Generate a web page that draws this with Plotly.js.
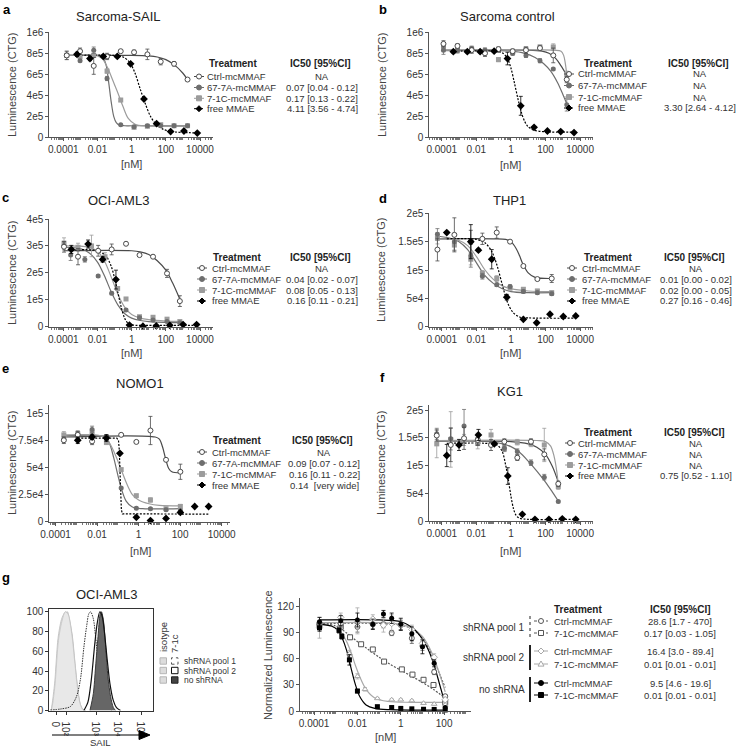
<!DOCTYPE html>
<html><head><meta charset="utf-8">
<script src="https://cdn.plot.ly/plotly-3.0.1.min.js"></script>
<style>html,body{margin:0;padding:0;background:#fff}#chart{width:737px;height:749px}</style>
</head><body><div id="chart"></div>
<script>
// ---------------- labels ----------------
const treatments = ['Ctrl-mcMMAF', '67-7A-mcMMAF', '7-1C-mcMMAF', 'free MMAE'];
const panelTitles = ['Sarcoma-SAIL', 'Sarcoma control', 'OCI-AML3', 'THP1', 'NOMO1', 'KG1', 'OCI-AML3'];
const ic50A = ['NA', '0.07 [0.04 - 0.12]', '0.17 [0.13 - 0.22]', '4.11 [3.56 - 4.74]'];
const ic50B = ['NA', 'NA', 'NA', '3.30 [2.64 - 4.12]'];
const ic50C = ['NA', '0.04 [0.02 - 0.07]', '0.08 [0.05 - 0.13]', '0.16 [0.11 - 0.21]'];
const ic50D = ['NA', '0.01 [0.00 - 0.02]', '0.02 [0.00 - 0.05]', '0.27 [0.16 - 0.46]'];
const ic50E = ['NA', '0.09 [0.07 - 0.12]', '0.16 [0.11 - 0.22]', '0.14\u00a0\u00a0[very wide]'];
const ic50F = ['NA', 'NA', 'NA', '0.75 [0.52 - 1.10]'];
const xTickVals = [1e-4, 1e-2, 1, 100, 1e4];
const xTickText = ['0.0001', '0.01', '1', '100', '10000'];
const gGroups = ['shRNA pool 1', 'shRNA pool 2', 'no shRNA'];
const gTreat = ['Ctrl-mcMMAF', '7-1C-mcMMAF', 'Ctrl-mcMMAF', '7-1C-mcMMAF', 'Ctrl-mcMMAF', '7-1C-mcMMAF'];
const gIc50 = ['28.6 [1.7 - 470]', '0.17 [0.03 - 1.05]', '16.4 [3.0 - 89.4]', '0.01 [0.01 - 0.01]', '9.5 [4.6 - 19.6]', '0.01 [0.01 - 0.01]'];
const histLegend = ['shRNA pool 1', 'shRNA pool 2', 'no shRNA'];
const histTickVals = [1.22, 1.67, 3, 4, 5];
const histTickText = ['0', '10\u00b2', '10\u00b3', '10\u2074', '10\u2075'];

// ---------------- panel a : Sarcoma-SAIL (x = log10 nM) ----------------
const aAdcLogX = [-3.8, -3.02, -2.22, -1.44, -0.64, 0.14, 0.92, 1.7, 2.48, 3.27];
const aCtrlY = [7.8e5, 8.2e5, 6.8e5, 7.7e5, 8.2e5, 8.1e5, 7.9e5, 7.2e5, 7.0e5, 5.5e5];
const aCtrlErr = [0.4e5, 0.3e5, 0.8e5, 0.3e5, 0.1e5, 0.2e5, 0.5e5, 0.3e5, 0.2e5, 0.1e5];
const a677Y = [7.8e5, 7.3e5, 8.3e5, 5.6e5, 1.2e5, 1.0e5, 1.1e5, 1.1e5, 1.1e5, 1.1e5];
const a677Err = [0.2e5, 0.1e5, 0.3e5, 0.2e5, 0.05e5, 0.05e5, 0.05e5, 0.05e5, 0.05e5, 0.05e5];
const a71cY = [7.8e5, 7.7e5, 7.8e5, 6.3e5, 3.55e5, 0.95e5, 1.05e5, 1.2e5, 1.1e5, 1.1e5];
const a71cErr = [0.4e5, 0.2e5, 0.2e5, 0.2e5, 0.15e5, 0.1e5, 0.1e5, 0.1e5, 0.1e5, 0.15e5];
const aMmaeLogX = [-3.2, -2.44, -1.66, -0.84, -0.06, 0.72, 1.46, 2.28, 3.06, 3.84];
const aMmaeY = [7.9e5, 7.5e5, 7.7e5, 7.7e5, 7.0e5, 3.65e5, 1.3e5, 0.55e5, 0.6e5, 0.4e5];
const aMmaeErr = [0.2e5, 0.2e5, 0.1e5, 0.1e5, 0.1e5, 0.1e5, 0.05e5, 0.05e5, 0.05e5, 0.05e5];
const aCtrlFitX = [-3.8, 0, 1, 1.5, 2, 2.5, 3, 3.27];
const aCtrlFitY = [7.8e5, 7.8e5, 7.75e5, 7.65e5, 7.4e5, 6.9e5, 6.1e5, 5.5e5];
const a677FitX = [-3.8, -2, -1.7, -1.5, -1.35, -1.2, -1.05, -0.9, -0.7, -0.4, 0, 3.27];
const a677FitY = [7.8e5, 7.8e5, 7.65e5, 6.9e5, 5.3e5, 3.4e5, 2.0e5, 1.4e5, 1.15e5, 1.1e5, 1.1e5, 1.1e5];
const a71cFitX = [-3.8, -2, -1.7, -1.4, -1.1, -0.8, -0.5, -0.2, 0.2, 0.8, 3.27];
const a71cFitY = [7.8e5, 7.75e5, 7.45e5, 6.6e5, 5.4e5, 4.2e5, 2.9e5, 1.8e5, 1.25e5, 1.08e5, 1.05e5];
const aMmaeFitX = [-3.2, -1, -0.5, -0.1, 0.2, 0.5, 0.8, 1.1, 1.4, 1.8, 2.3, 3.84];
const aMmaeFitY = [7.8e5, 7.8e5, 7.65e5, 7.1e5, 6.1e5, 4.6e5, 3.2e5, 2.0e5, 1.3e5, 0.8e5, 0.55e5, 0.42e5];

// ---------------- panel b : Sarcoma control ----------------
const bAdcLogX = [-3.9, -3.09, -2.27, -1.5, -0.72, 0.1, 0.87, 1.68, 2.45, 3.23];
const bCtrlY = [8.9e5, 8.7e5, 8.3e5, 8.0e5, 8.4e5, 8.2e5, 8.3e5, 8.5e5, 7.8e5, 5.5e5];
const bCtrlErr = [0.3e5, 0.2e5, 0.3e5, 0.3e5, 0.2e5, 0.2e5, 0.3e5, 0.2e5, 0.7e5, 0.3e5];
const b677Y = [8.3e5, 8.3e5, 8.4e5, 8.3e5, 8.3e5, 8.0e5, 7.8e5, 7.3e5, 6.5e5, 3.1e5];
const b677Err = [0.4e5, 0.2e5, 0.2e5, 0.2e5, 0.2e5, 0.2e5, 0.2e5, 0.2e5, 0.1e5, 0.6e5];
const b71cY = [8.6e5, 8.3e5, 8.4e5, 8.2e5, 7.4e5, 8.1e5, 8.4e5, 8.6e5, 8.6e5, 6.0e5];
const b71cErr = [0.4e5, 0.3e5, 0.3e5, 0.3e5, 0.2e5, 0.2e5, 0.2e5, 0.2e5, 0.3e5, 0.3e5];
const bMmaeLogX = [-3.33, -2.52, -1.78, -0.97, -0.2, 0.57, 1.34, 2.11, 2.88, 3.65];
const bMmaeY = [8.15e5, 8.15e5, 8.15e5, 8.2e5, 7.5e5, 3.0e5, 0.95e5, 0.6e5, 0.55e5, 0.45e5];
const bMmaeErr = [0.1e5, 0.1e5, 0.1e5, 0.1e5, 0.6e5, 0.9e5, 0.05e5, 0.05e5, 0.05e5, 0.05e5];
const bCtrlFitX = [-3.9, 1, 1.8, 2.2, 2.6, 2.9, 3.23];
const bCtrlFitY = [8.3e5, 8.3e5, 8.2e5, 8.0e5, 7.5e5, 6.8e5, 5.9e5];
const b677FitX = [-3.9, 0, 0.8, 1.4, 1.9, 2.3, 2.7, 3.0, 3.23];
const b677FitY = [8.25e5, 8.2e5, 8.0e5, 7.6e5, 7.0e5, 6.3e5, 5.2e5, 4.1e5, 3.2e5];
const b71cFitX = [-3.9, 2.5, 2.9, 3.05, 3.15, 3.23];
const b71cFitY = [8.3e5, 8.3e5, 8.2e5, 7.8e5, 7.0e5, 6.0e5];
const bMmaeFitX = [-3.33, -1, -0.5, -0.2, 0, 0.2, 0.4, 0.6, 0.8, 1.0, 1.3, 2, 3.65];
const bMmaeFitY = [8.2e5, 8.2e5, 8.05e5, 7.5e5, 6.6e5, 5.2e5, 3.7e5, 2.4e5, 1.5e5, 1.0e5, 0.7e5, 0.52e5, 0.5e5];

// ---------------- panel c : OCI-AML3 ----------------
const cCtrlLogX = [-3.96, -3.14, -1.96, -1.17, -0.33, 0.46, 1.25, 2.07, 2.82];
const cCtrlY = [2.97e5, 2.6e5, 2.82e5, 2.87e5, 3.08e5, 2.66e5, 2.6e5, 1.98e5, 0.95e5];
const cCtrlErr = [0.2e5, 0.3e5, 0.2e5, 0.2e5, 0.05e5, 0.05e5, 0.05e5, 0.15e5, 0.2e5];
const c677LogX = [-3.96, -3.57, -2.74, -1.96, -1.17, -0.33, 0.46, 1.25, 2.07, 2.82];
const c677Y = [3.0e5, 2.66e5, 2.5e5, 1.88e5, 1.24e5, 0.62e5, 0.33e5, 0.25e5, 0.19e5, 0.15e5];
const c677Err = [0.15e5, 0.2e5, 0.1e5, 0.05e5, 0.05e5, 0.05e5, 0.05e5, 0.03e5, 0.03e5, 0.03e5];
const c71cLogX = [-3.96, -3.14, -2.35, -1.56, -0.82, -0.33, 0.46, 1.25, 2.07, 2.82];
const c71cY = [3.1e5, 2.95e5, 3.0e5, 2.6e5, 1.42e5, 1.03e5, 0.37e5, 0.35e5, 0.28e5, 0.19e5];
const c71cErr = [0.2e5, 0.15e5, 0.4e5, 0.15e5, 0.05e5, 0.05e5, 0.05e5, 0.05e5, 0.05e5, 0.05e5];
const cMmaeLogX = [-3.53, -2.55, -1.7, -0.92, -0.13, 0.66, 1.44, 2.23, 3.01, 3.8];
const cMmaeY = [2.87e5, 3.07e5, 2.5e5, 1.75e5, 0.06e5, 0.02e5, 0.03e5, 0.05e5, 0.08e5, 0.08e5];
const cMmaeErr = [0.15e5, 0.15e5, 0.1e5, 0.35e5, 0.02e5, 0.01e5, 0.01e5, 0.01e5, 0.01e5, 0.01e5];
const cCtrlFitX = [-3.96, 0, 0.5, 1.0, 1.5, 2.0, 2.4, 2.82];
const cCtrlFitY = [2.82e5, 2.82e5, 2.78e5, 2.68e5, 2.45e5, 2.1e5, 1.62e5, 1.02e5];
const c677FitX = [-3.96, -3, -2.5, -2, -1.6, -1.2, -0.8, -0.4, 0, 0.5, 1, 2, 2.82];
const c677FitY = [2.95e5, 2.9e5, 2.75e5, 2.4e5, 1.9e5, 1.3e5, 0.8e5, 0.48e5, 0.32e5, 0.23e5, 0.19e5, 0.16e5, 0.15e5];
const c71cFitX = [-3.96, -2.5, -2, -1.6, -1.2, -0.8, -0.4, 0, 0.5, 1, 2, 2.82];
const c71cFitY = [3.0e5, 2.95e5, 2.8e5, 2.45e5, 1.85e5, 1.2e5, 0.72e5, 0.45e5, 0.32e5, 0.26e5, 0.21e5, 0.2e5];
const cMmaeFitX = [-3.53, -2, -1.5, -1.2, -1.0, -0.8, -0.6, -0.4, -0.2, 0.1, 0.5, 3.8];
const cMmaeFitY = [2.85e5, 2.82e5, 2.62e5, 2.25e5, 1.8e5, 1.25e5, 0.7e5, 0.3e5, 0.12e5, 0.06e5, 0.05e5, 0.05e5];

// ---------------- panel d : THP1 ----------------
const dAdcLogX = [-4.25, -3.27, -2.32, -1.65, -0.82, -0.05, 0.72, 1.53, 2.36];
const dCtrlY = [1.36e5, 1.62e5, 1.5e5, 1.55e5, 1.66e5, 1.5e5, 1.07e5, 0.84e5, 0.85e5];
const dCtrlErr = [0.2e5, 0.3e5, 0.2e5, 0.1e5, 0.1e5, 0.02e5, 0.02e5, 0.02e5, 0.07e5];
const d677Y = [1.63e5, 1.5e5, 1.25e5, 0.89e5, 0.74e5, 0.71e5, 0.62e5, 0.6e5, 0.58e5];
const d677Err = [0.1e5, 0.15e5, 0.2e5, 0.05e5, 0.03e5, 0.03e5, 0.03e5, 0.03e5, 0.03e5];
const d71cY = [1.56e5, 1.44e5, 1.19e5, 0.94e5, 0.85e5, 0.68e5, 0.66e5, 0.63e5, 0.6e5];
const d71cErr = [0.1e5, 0.1e5, 0.1e5, 0.05e5, 0.05e5, 0.03e5, 0.03e5, 0.03e5, 0.03e5];
const dMmaeLogX = [-3.71, -2.32, -1.88, -1.11, -0.24, 0.72, 1.49, 2.26, 3.03, 3.75];
const dMmaeY = [1.66e5, 1.5e5, 1.35e5, 1.19e5, 0.52e5, 0.13e5, 0.07e5, 0.22e5, 0.18e5, 0.19e5];
const dMmaeErr = [0.02e5, 0.3e5, 0.02e5, 0.17e5, 0.05e5, 0.01e5, 0.01e5, 0.01e5, 0.01e5, 0.01e5];
const dCtrlFitX = [-4.25, -1, -0.3, 0, 0.3, 0.5, 0.7, 1.0, 1.4, 2.36];
const dCtrlFitY = [1.55e5, 1.55e5, 1.54e5, 1.5e5, 1.38e5, 1.25e5, 1.1e5, 0.95e5, 0.87e5, 0.85e5];
const d677FitX = [-4.25, -3.5, -3, -2.5, -2, -1.5, -1, -0.5, 0, 1, 2.36];
const d677FitY = [1.6e5, 1.56e5, 1.5e5, 1.36e5, 1.13e5, 0.9e5, 0.76e5, 0.67e5, 0.62e5, 0.6e5, 0.6e5];
const d71cFitX = [-4.25, -3, -2.5, -2, -1.5, -1, -0.5, 0, 1, 2.36];
const d71cFitY = [1.55e5, 1.52e5, 1.43e5, 1.24e5, 1.0e5, 0.83e5, 0.72e5, 0.67e5, 0.63e5, 0.62e5];
const dMmaeFitX = [-3.71, -2, -1.5, -1.1, -0.8, -0.5, -0.2, 0.1, 0.5, 1, 3.75];
const dMmaeFitY = [1.55e5, 1.54e5, 1.48e5, 1.32e5, 1.08e5, 0.74e5, 0.43e5, 0.26e5, 0.17e5, 0.155e5, 0.15e5];

// ---------------- panel e : NOMO1 ----------------
const eAdcLogX = [-3.6, -2.93, -2.24, -1.55, -0.84, -0.11, 0.57, 1.32, 2.01];
const eCtrlY = [7.5e4, 8.0e4, 7.4e4, 7.8e4, 8.0e4, 7.35e4, 8.4e4, 5.7e4, 4.6e4];
const eCtrlErr = [0.3e4, 0.3e4, 0.3e4, 0.2e4, 0.1e4, 0.1e4, 1.3e4, 0.1e4, 0.7e4];
const e677Y = [7.6e4, 7.9e4, 8.5e4, 7.7e4, 3.1e4, 1.25e4, 1.2e4, 1.1e4, 1.0e4];
const e677Err = [0.2e4, 0.2e4, 0.3e4, 0.2e4, 0.1e4, 0.1e4, 0.1e4, 0.1e4, 0.1e4];
const e71cY = [8.0e4, 8.1e4, 8.2e4, 7.3e4, 4.8e4, 2.4e4, 2.0e4, 1.2e4, 1.4e4];
const e71cErr = [0.3e4, 0.3e4, 0.2e4, 0.2e4, 0.1e4, 0.1e4, 0.2e4, 0.1e4, 0.2e4];
const eMmaeLogX = [-2.93, -2.24, -1.55, -0.9, -0.11, 0.57, 1.32, 2.01, 2.7, 3.37];
const eMmaeY = [7.5e4, 7.8e4, 7.7e4, 6.3e4, 0.4e4, 0.1e4, 0.3e4, 0.85e4, 1.4e4, 1.4e4];
const eMmaeErr = [0.3e4, 0.2e4, 0.3e4, 0.1e4, 0.1e4, 0, 0.1e4, 0.1e4, 0, 0];
const eCtrlFitX = [-3.6, 0.8, 1.0, 1.15, 1.3, 1.45, 1.6, 2.01];
const eCtrlFitY = [7.8e4, 7.8e4, 7.6e4, 6.9e4, 5.8e4, 4.9e4, 4.6e4, 4.5e4];
const e677FitX = [-3.6, -1.6, -1.4, -1.2, -1.0, -0.84, -0.6, -0.3, 0.2, 2.01];
const e677FitY = [7.9e4, 7.8e4, 7.2e4, 5.9e4, 4.3e4, 3.1e4, 1.9e4, 1.35e4, 1.2e4, 1.2e4];
const e71cFitX = [-3.6, -1.8, -1.5, -1.25, -1.0, -0.8, -0.55, -0.3, 0, 0.5, 1, 2.01];
const e71cFitY = [8.0e4, 7.9e4, 7.5e4, 6.7e4, 5.6e4, 4.6e4, 3.4e4, 2.5e4, 2.0e4, 1.65e4, 1.5e4, 1.45e4];
const eMmaeFitX = [-2.93, -1.05, -0.97, -0.93, -0.9, -0.87, -0.83, -0.78, 3.37];
const eMmaeFitY = [7.7e4, 7.7e4, 7.5e4, 6.6e4, 4.8e4, 2.6e4, 1.1e4, 0.72e4, 0.7e4];

// ---------------- panel f : KG1 ----------------
const fAdcLogX = [-4.29, -3.48, -2.71, -1.92, -1.15, -0.38, 0.37, 1.16, 1.93, 2.74];
const fCtrlY = [1.54e5, 1.37e5, 1.49e5, 1.46e5, 1.37e5, 1.43e5, 1.14e5, 1.43e5, 1.2e5, 0.67e5];
const fCtrlErr = [0.1e5, 0.3e5, 0.2e5, 0.1e5, 0.1e5, 0.05e5, 0.05e5, 0.05e5, 0.1e5, 0.05e5];
const f677Y = [1.57e5, 1.48e5, 1.71e5, 1.48e5, 1.39e5, 1.31e5, 1.25e5, 1.05e5, 0.79e5, 0.35e5];
const f677Err = [0.1e5, 0.2e5, 0.3e5, 0.1e5, 0.05e5, 0.05e5, 0.05e5, 0.05e5, 0.05e5, 0.02e5];
const f71cY = [1.39e5, 1.47e5, 1.46e5, 1.40e5, 1.55e5, 1.3e5, 1.42e5, 1.39e5, 1.37e5, 0.62e5];
const f71cErr = [0.25e5, 0.5e5, 0.1e5, 0.1e5, 0.1e5, 0.05e5, 0.05e5, 0.05e5, 0.3e5, 0.05e5];
const fMmaeLogX = [-3.71, -3.0, -1.88, -0.96, -0.18, 0.66, 1.39, 2.2, 2.97, 3.75];
const fMmaeY = [1.18e5, 1.37e5, 1.55e5, 1.39e5, 0.81e5, 0.12e5, 0.03e5, 0.03e5, 0.04e5, 0.03e5];
const fMmaeErr = [0.2e5, 0.1e5, 0.1e5, 0.03e5, 0.15e5, 0.01e5, 0, 0, 0, 0];
const fCtrlFitX = [-4.29, 0, 1, 1.5, 2, 2.4, 2.74];
const fCtrlFitY = [1.44e5, 1.43e5, 1.39e5, 1.33e5, 1.2e5, 0.98e5, 0.7e5];
const f677FitX = [-4.29, -1, 0, 0.5, 1, 1.5, 2, 2.4, 2.74];
const f677FitY = [1.45e5, 1.42e5, 1.34e5, 1.24e5, 1.08e5, 0.9e5, 0.7e5, 0.52e5, 0.36e5];
const f71cFitX = [-4.29, 1.5, 2.0, 2.3, 2.5, 2.65, 2.74];
const f71cFitY = [1.45e5, 1.45e5, 1.43e5, 1.35e5, 1.16e5, 0.9e5, 0.65e5];
const fMmaeFitX = [-3.71, -1.5, -0.8, -0.5, -0.3, -0.15, 0, 0.15, 0.3, 0.5, 1, 3.75];
const fMmaeFitY = [1.4e5, 1.4e5, 1.37e5, 1.25e5, 1.0e5, 0.75e5, 0.45e5, 0.22e5, 0.1e5, 0.05e5, 0.03e5, 0.03e5];

// ---------------- panel g left : SAIL histograms (x = display decade units) ----------------
const isoAX = [0.98, 1.05, 1.15, 1.3, 1.45, 1.6, 1.67, 1.74, 1.89, 2.03, 2.14, 2.26, 2.38, 2.5];
const isoAY = [0, 8, 27, 71, 90, 100, 99, 97, 78, 48, 24, 7, 1, 0];
const isoBX = [0.98, 1.06, 1.17, 1.32, 1.47, 1.62, 1.7, 1.77, 1.92, 2.05, 2.16, 2.28, 2.4, 2.52];
const isoBY = [0, 6, 24, 66, 88, 98, 100, 95, 75, 45, 22, 6, 1, 0];
const isoCX = [0.98, 1.04, 1.14, 1.28, 1.43, 1.57, 1.65, 1.72, 1.87, 2.0, 2.12, 2.24, 2.36, 2.48];
const isoCY = [0, 10, 30, 73, 92, 99, 100, 96, 80, 50, 26, 8, 1, 0];
const pool1HistX = [0.94, 1.39, 1.83, 2.1, 2.28, 2.43, 2.55, 2.65, 2.73, 2.85, 2.95, 3.06, 3.18, 3.32, 3.5, 3.7];
const pool1HistY = [0.5, 1.5, 4, 14, 32, 64, 85, 98, 100, 93, 75, 51, 31, 14, 3, 0];
const pool2HistX = [2.43, 2.61, 2.76, 2.9, 3.02, 3.14, 3.25, 3.35, 3.47, 3.59, 3.74, 3.88, 4.06];
const pool2HistY = [0, 8.5, 31, 64, 88, 100, 95, 78, 51, 27, 10, 3, 0];
const noShHistX = [2.7, 2.85, 2.95, 3.06, 3.15, 3.21, 3.3, 3.4, 3.5, 3.62, 3.74, 3.84];
const noShHistY = [0, 17, 44, 75, 97, 100, 91, 64, 34, 14, 3, 0];

// ---------------- panel g right : normalized luminescence ----------------
const gCtrlLogX = [-3.75, -2.77, -2.0, -1.29, -0.8, -0.42, 0.0, 0.51, 1.0, 1.54, 2.05];
const gNoCtrlY = [103, 104, 105, 100, 112, 107, 100, 89, 74, 55, 4];
const gNoCtrlErr = [5, 6, 8, 6, 4, 6, 7, 8, 8, 4, 1];
const gP2CtrlY = [96, 108, 104, 106, 99, 101, 99, 94, 78, 62, 13];
const gP2CtrlErr = [12, 5, 15, 5, 8, 10, 6, 5, 5, 4, 3];
const gP1CtrlY = [100, 101, 97, 100, 100, 90, 99, 84, 75, 45, 17];
const gP1CtrlErr = [4, 5, 6, 5, 4, 3, 5, 6, 5, 3, 2];
const gNo71cLogX = [-3.75, -2.85, -2.72, -2.37, -2.0, -1.08, -0.42, 0.0, 0.51, 1.05, 1.54, 2.05];
const gNo71cY = [96, 93, 86, 59, 23, 5, 4, 3, 2.5, 2, 1.8, 1.2];
const gNo71cErr = [4, 3, 3, 6, 2, 1, 1, 1, 0.5, 0.5, 0.5, 0.5];
const gP271cLogX = [-3.75, -2.85, -2.37, -2.0, -1.65, -1.08, -0.42, 0.0, 0.51, 1.05, 1.54, 2.05];
const gP271cY = [99, 95, 66, 40, 25, 14.5, 13, 13, 12, 9, 8, 7];
const gP271cErr = [3, 3, 4, 3, 2, 1, 1, 1, 1, 1, 1, 1];
const gP171cLogX = [-3.75, -2.77, -2.34, -1.83, -1.29, -0.77, 0.05, 0.54, 1.05, 1.51, 2.05];
const gP171cY = [100, 97, 85, 77, 71, 57, 48, 42, 36, 30, 10];
const gP171cErr = [3, 3, 2, 2, 2, 2, 2, 2, 2, 2, 2];
const gCtrlFitX = [-3.75, -1, 0, 0.5, 1.0, 1.3, 1.55, 1.8, 2.05];
const gNoCtrlFitY = [105, 105, 103, 97, 83, 69, 52, 30, 8];
const gP2CtrlFitY = [102, 102, 100, 96, 86, 74, 60, 42, 22];
const gP1CtrlFitY = [101, 101, 99, 95, 84, 72, 58, 42, 27];
const gNo71cFitX = [-3.75, -3.2, -2.9, -2.7, -2.5, -2.3, -2.1, -1.9, -1.6, -1.2, -0.5, 2.05];
const gNo71cFitY = [100, 98, 93, 84, 70, 50, 31, 17, 7, 3, 1.5, 1];
const gP271cFitX = [-3.75, -3.2, -2.8, -2.5, -2.3, -2.1, -1.9, -1.6, -1.2, -0.6, 0.5, 2.05];
const gP271cFitY = [100, 98, 92, 80, 68, 53, 40, 25, 15, 11, 10, 10];
const gP171cFitX = [-3.75, -3, -2.5, -2, -1.5, -1, -0.5, 0, 0.5, 1, 1.5, 2.05];
const gP171cFitY = [101, 98, 90, 80, 71, 62, 54, 47, 40, 33, 25, 15];

// ================= drawing =================
const W = 737, H = 749;
const P = x => x / W, Q = y => 1 - y / H;
const toConc = a => a.map(v => Math.pow(10, v));
const FONT = 'Liberation Sans, Arial, Helvetica, sans-serif';
const LF = 9.5; // legend font size

const ST = {
  ctrl: {color: '#4a4a4a', symbol: 'circle', open: true, size: 5, dash: 'solid'},
  a67: {color: '#6e6e6e', symbol: 'circle', open: false, size: 5, dash: 'solid'},
  c71: {color: '#9c9c9c', symbol: 'square', open: false, size: 5, dash: 'solid'},
  mmae: {color: '#000000', symbol: 'diamond', open: false, size: 6, dash: '2px,1.5px'},
  p1ctrl: {color: '#555555', symbol: 'circle', open: true, size: 5, dash: '2px,1.5px'},
  p171c: {color: '#555555', symbol: 'square', open: true, size: 5, dash: '2px,1.5px'},
  p2ctrl: {color: '#a8a8a8', symbol: 'diamond', open: true, size: 5, dash: 'solid'},
  p271c: {color: '#a8a8a8', symbol: 'triangle-up', open: true, size: 5, dash: 'solid'},
  noctrl: {color: '#000000', symbol: 'circle', open: false, size: 5, dash: 'solid'},
  no71c: {color: '#000000', symbol: 'square', open: false, size: 5, dash: 'solid'}
};

const traces = [];
function pts(ax, logX, y, err, st) {
  traces.push({type: 'scatter', mode: 'markers', xaxis: 'x' + ax, yaxis: 'y' + ax,
    x: toConc(logX), y: y, cliponaxis: false, hoverinfo: 'skip',
    marker: {symbol: st.symbol, size: st.size, color: st.open ? '#ffffff' : st.color,
      line: {color: st.color, width: st.open ? 1 : 0}},
    error_y: {type: 'data', array: err, visible: true, color: st.color, thickness: 0.8, width: 2}});
}
function fit(ax, logX, y, st, shape) {
  traces.push({type: 'scatter', mode: 'lines', xaxis: 'x' + ax, yaxis: 'y' + ax,
    x: toConc(logX), y: y, cliponaxis: false, hoverinfo: 'skip',
    line: {color: st.color, width: 1.2, dash: st.dash, shape: shape || 'spline', smoothing: 0.9}});
}

// panel a
fit('', aCtrlFitX, aCtrlFitY, ST.ctrl); fit('', a677FitX, a677FitY, ST.a67);
fit('', a71cFitX, a71cFitY, ST.c71); fit('', aMmaeFitX, aMmaeFitY, ST.mmae);
pts('', aAdcLogX, a71cY, a71cErr, ST.c71); pts('', aAdcLogX, a677Y, a677Err, ST.a67);
pts('', aAdcLogX, aCtrlY, aCtrlErr, ST.ctrl); pts('', aMmaeLogX, aMmaeY, aMmaeErr, ST.mmae);
// panel b
fit('2', bCtrlFitX, bCtrlFitY, ST.ctrl); fit('2', b677FitX, b677FitY, ST.a67);
fit('2', b71cFitX, b71cFitY, ST.c71); fit('2', bMmaeFitX, bMmaeFitY, ST.mmae);
pts('2', bAdcLogX, b71cY, b71cErr, ST.c71); pts('2', bAdcLogX, b677Y, b677Err, ST.a67);
pts('2', bAdcLogX, bCtrlY, bCtrlErr, ST.ctrl); pts('2', bMmaeLogX, bMmaeY, bMmaeErr, ST.mmae);
// panel c
fit('3', cCtrlFitX, cCtrlFitY, ST.ctrl); fit('3', c677FitX, c677FitY, ST.a67);
fit('3', c71cFitX, c71cFitY, ST.c71); fit('3', cMmaeFitX, cMmaeFitY, ST.mmae);
pts('3', c71cLogX, c71cY, c71cErr, ST.c71); pts('3', c677LogX, c677Y, c677Err, ST.a67);
pts('3', cCtrlLogX, cCtrlY, cCtrlErr, ST.ctrl); pts('3', cMmaeLogX, cMmaeY, cMmaeErr, ST.mmae);
// panel d
fit('4', dCtrlFitX, dCtrlFitY, ST.ctrl); fit('4', d677FitX, d677FitY, ST.a67);
fit('4', d71cFitX, d71cFitY, ST.c71); fit('4', dMmaeFitX, dMmaeFitY, ST.mmae);
pts('4', dAdcLogX, d71cY, d71cErr, ST.c71); pts('4', dAdcLogX, d677Y, d677Err, ST.a67);
pts('4', dAdcLogX, dCtrlY, dCtrlErr, ST.ctrl); pts('4', dMmaeLogX, dMmaeY, dMmaeErr, ST.mmae);
// panel e
fit('5', eCtrlFitX, eCtrlFitY, ST.ctrl); fit('5', e677FitX, e677FitY, ST.a67);
fit('5', e71cFitX, e71cFitY, ST.c71); fit('5', eMmaeFitX, eMmaeFitY, ST.mmae, 'linear');
pts('5', eAdcLogX, e71cY, e71cErr, ST.c71); pts('5', eAdcLogX, e677Y, e677Err, ST.a67);
pts('5', eAdcLogX, eCtrlY, eCtrlErr, ST.ctrl); pts('5', eMmaeLogX, eMmaeY, eMmaeErr, ST.mmae);
// panel f
fit('6', fCtrlFitX, fCtrlFitY, ST.ctrl); fit('6', f677FitX, f677FitY, ST.a67);
fit('6', f71cFitX, f71cFitY, ST.c71); fit('6', fMmaeFitX, fMmaeFitY, ST.mmae);
pts('6', fAdcLogX, f71cY, f71cErr, ST.c71); pts('6', fAdcLogX, f677Y, f677Err, ST.a67);
pts('6', fAdcLogX, fCtrlY, fCtrlErr, ST.ctrl); pts('6', fMmaeLogX, fMmaeY, fMmaeErr, ST.mmae);
// panel g histograms
function hist(x, y, fillc, linec, width, dash) {
  traces.push({type: 'scatter', mode: 'lines', xaxis: 'x7', yaxis: 'y7', x: x, y: y, hoverinfo: 'skip',
    fill: fillc ? 'tozeroy' : 'none', fillcolor: fillc || undefined,
    line: {color: linec, width: width, dash: dash || 'solid', shape: 'spline', smoothing: 0.8}});
}
hist(isoBX, isoBY, '#d9d9d9', '#b8b8b8', 0.8);
hist(isoCX, isoCY, '#e2e2e2', '#bdbdbd', 0.8);
hist(isoAX, isoAY, '#e8e8e8', '#c4c4c4', 0.8);
hist(pool1HistX, pool1HistY, null, '#333333', 1, '1.5px,1px');
hist(noShHistX, noShHistY, '#666666', '#3a3a3a', 1);
hist(pool2HistX, pool2HistY, null, '#111111', 1.2);
// panel g curves
fit('8', gP171cFitX, gP171cFitY, ST.p171c); fit('8', gCtrlFitX, gP1CtrlFitY, ST.p1ctrl);
fit('8', gP271cFitX, gP271cFitY, ST.p271c); fit('8', gCtrlFitX, gP2CtrlFitY, ST.p2ctrl);
fit('8', gNo71cFitX, gNo71cFitY, ST.no71c); fit('8', gCtrlFitX, gNoCtrlFitY, ST.noctrl);
pts('8', gP171cLogX, gP171cY, gP171cErr, ST.p171c); pts('8', gCtrlLogX, gP1CtrlY, gP1CtrlErr, ST.p1ctrl);
pts('8', gP271cLogX, gP271cY, gP271cErr, ST.p271c); pts('8', gCtrlLogX, gP2CtrlY, gP2CtrlErr, ST.p2ctrl);
pts('8', gNo71cLogX, gNo71cY, gNo71cErr, ST.no71c); pts('8', gCtrlLogX, gNoCtrlY, gNoCtrlErr, ST.noctrl);

// ---------- axes ----------
const minorVals = [];
for (let n = -5; n <= 4; n++) for (let k = 1; k <= 9; k++) minorVals.push(k * Math.pow(10, n));
const AXC = '#555555';
function xLog(px0, px1, rng, anchor, tv, tt) {
  return {type: 'log', domain: [P(px0), P(px1)], range: rng, anchor: anchor,
    showline: true, linecolor: AXC, linewidth: 1, ticks: 'outside', ticklen: 3, tickcolor: AXC,
    tickmode: 'array', tickvals: tv || xTickVals, ticktext: tt || xTickText,
    tickfont: {size: 10, color: '#333', family: FONT}, showgrid: false, zeroline: false, fixedrange: true,
    minor: {tickmode: 'array', tickvals: minorVals, ticks: 'outside', ticklen: 2, tickcolor: '#777', showgrid: false}};
}
function yLin(py0, py1, rng, anchor, tv, tt) {
  return {domain: [Q(py1), Q(py0)], range: rng, anchor: anchor,
    showline: true, linecolor: AXC, linewidth: 1, ticks: 'outside', ticklen: 3, tickcolor: AXC,
    tickmode: 'array', tickvals: tv, ticktext: tt,
    tickfont: {size: 10, color: '#333', family: FONT}, showgrid: false, zeroline: false, fixedrange: true};
}
const yA = [[0, 2e5, 4e5, 6e5, 8e5, 1e6], ['0', '2e5', '4e5', '6e5', '8e5', '1e6']];
const yC = [[0, 1e5, 2e5, 3e5, 4e5], ['0', '1e5', '2e5', '3e5', '4e5']];
const yD = [[0, 5e4, 1e5, 1.5e5, 2e5], ['0', '5e4', '1e5', '1.5e5', '2e5']];
const yE = [[0, 2.5e4, 5e4, 7.5e4, 1e5], ['0', '2.5e4', '5e4', '7.5e4', '1e5']];

const layout = {
  width: W, height: H, margin: {l: 0, r: 0, t: 0, b: 0}, paper_bgcolor: '#fff', plot_bgcolor: 'rgba(0,0,0,0)',
  showlegend: false, font: {family: FONT, color: '#333'},
  xaxis: xLog(49.3, 213, [-4.82, 4.76], 'y'),
  yaxis: yLin(32.3, 137.3, [0, 1e6], 'x', yA[0], yA[1]),
  xaxis2: xLog(429.3, 592.7, [-4.72, 4.73], 'y2'),
  yaxis2: yLin(32.3, 137.3, [0, 1e6], 'x2', yA[0], yA[1]),
  xaxis3: xLog(49.3, 213, [-4.82, 4.76], 'y3'),
  yaxis3: yLin(219, 326.7, [0, 4e5], 'x3', yC[0], yC[1]),
  xaxis4: xLog(429.3, 592.7, [-4.72, 4.73], 'y4'),
  yaxis4: yLin(213.3, 326.7, [0, 2e5], 'x4', yD[0], yD[1]),
  xaxis5: xLog(49.3, 230, [-4.3, 4.4], 'y5'),
  yaxis5: yLin(405, 521.7, [0, 1.075e5], 'x5', yE[0], yE[1]),
  xaxis6: xLog(429.3, 592.7, [-4.72, 4.73], 'y6'),
  yaxis6: yLin(405, 521, [0, 2.09e5], 'x6', yD[0], yD[1]),
  xaxis7: {domain: [P(49.3), P(152.7)], range: [0.893, 5.49], anchor: 'y7', showline: true, mirror: true,
    linecolor: '#333', linewidth: 1, ticks: 'outside', ticklen: 3, tickcolor: '#333', tickmode: 'array',
    tickvals: histTickVals, ticktext: histTickText, tickfont: {size: 10, color: '#333', family: FONT},
    showgrid: false, zeroline: false, fixedrange: true},
  yaxis7: {domain: [Q(710.5), Q(609.3)], range: [0, 102.5], anchor: 'x7', showline: true, mirror: true,
    linecolor: '#333', linewidth: 1, ticks: 'outside', ticklen: 3, tickcolor: '#333', tickmode: 'array',
    tickvals: [0, 20, 40, 60, 80, 100], tickfont: {size: 10, color: '#333', family: FONT},
    showgrid: false, zeroline: false, fixedrange: true},
  xaxis8: xLog(300, 471, [-4.65, 3.24], 'y8', [1e-4, 1e-2, 1, 100], ['0.0001', '0.01', '1', '100']),
  yaxis8: yLin(598.3, 711, [0, 130], 'x8', [0, 30, 60, 90, 120], ['0', '30', '60', '90', '120']),
  annotations: [], shapes: []
};

// ---------- text ----------
const ann = layout.annotations, shp = layout.shapes;
function T(text, x, y, size, opt) {
  ann.push(Object.assign({text: text, x: P(x), y: Q(y), xref: 'paper', yref: 'paper', showarrow: false,
    xanchor: 'center', yanchor: 'middle', font: {size: size, color: '#333', family: FONT}}, opt || {}));
}
function bold(t) { return '<b>' + t + '</b>'; }
// panel letters
[['a', 7, 9], ['b', 383, 9], ['c', 6, 197], ['d', 383, 198], ['e', 6, 368], ['f', 382, 377], ['g', 6, 577]]
  .forEach(l => T(bold(l[0]), l[1], l[2], 13, {font: {size: 13, color: '#000', family: FONT}}));
// titles
const titlePos = [[118, 16], [507, 16], [118, 200], [509, 200], [140, 383], [510, 391], [106, 594]];
panelTitles.forEach((t, i) => T(t, titlePos[i][0], titlePos[i][1], 13, {font: {size: 13, color: '#222', family: FONT}}));
// y titles
[[12, 85], [382, 85], [12, 273], [381, 270], [12, 463], [381, 463]].forEach(p =>
  T('Luminescence (CTG)', p[0], p[1], 11, {textangle: -90, font: {size: 11, color: '#444', family: FONT}}));
T('Normalized Luminescence', 268, 655, 11, {textangle: -90, font: {size: 11, color: '#444', family: FONT}});
// x titles
[[131, 164], [511, 165], [131, 353], [511, 353], [140, 551], [511, 551], [386, 737]].forEach(p =>
  T('[nM]', p[0], p[1], 11, {font: {size: 11, color: '#444', family: FONT}}));

// ---------- legend keys ----------
function keyShape(cx, cy, st, half) {
  half = half || 5;
  const dash = st.dash === 'solid' ? 'solid' : 'dot';
  shp.push({type: 'line', xref: 'paper', yref: 'paper', x0: P(cx - half), x1: P(cx + half), y0: Q(cy), y1: Q(cy),
    line: {color: st.color, width: 1, dash: dash}});
  const fill = st.open ? '#ffffff' : st.color;
  const r = 2.5;
  if (st.symbol === 'circle') {
    shp.push({type: 'circle', xref: 'paper', yref: 'paper', x0: P(cx - r), x1: P(cx + r), y0: Q(cy + r), y1: Q(cy - r),
      fillcolor: fill, line: {color: st.color, width: 1}});
  } else if (st.symbol === 'square') {
    shp.push({type: 'rect', xref: 'paper', yref: 'paper', x0: P(cx - r), x1: P(cx + r), y0: Q(cy + r), y1: Q(cy - r),
      fillcolor: fill, line: {color: st.color, width: 1}});
  } else if (st.symbol === 'diamond') {
    const d = 3;
    shp.push({type: 'path', xref: 'paper', yref: 'paper',
      path: `M ${P(cx)},${Q(cy - d)} L ${P(cx + d)},${Q(cy)} L ${P(cx)},${Q(cy + d)} L ${P(cx - d)},${Q(cy)} Z`,
      fillcolor: fill, line: {color: st.color, width: 1}});
  } else {
    const d = 3;
    shp.push({type: 'path', xref: 'paper', yref: 'paper',
      path: `M ${P(cx)},${Q(cy - d)} L ${P(cx + d)},${Q(cy + d * 0.7)} L ${P(cx - d)},${Q(cy + d * 0.7)} Z`,
      fillcolor: fill, line: {color: st.color, width: 1}});
  }
}
const legStyles = [ST.ctrl, ST.a67, ST.c71, ST.mmae];
function legendBlock(hdrX, txtX, symX, icx, hy, rows, ic50) {
  T(bold('Treatment'), hdrX, hy, 10, {xanchor: 'left', font: {size: 10, color: '#222', family: FONT}});
  T(bold('IC50 [95%CI]'), icx, hy, 10, {font: {size: 10, color: '#222', family: FONT}});
  treatments.forEach((t, i) => {
    keyShape(symX, rows[i], legStyles[i]);
    T(t, txtX, rows[i], LF, {xanchor: 'left', font: {size: LF, color: '#333', family: FONT}});
    T(ic50[i], icx + 2, rows[i], LF, {font: {size: LF, color: '#333', family: FONT}});
  });
}
legendBlock(207, 205, 199, 320, 63, [76.5, 87.5, 98.3, 108.7], ic50A);
legendBlock(582, 576, 569, 698, 63, [74, 85.5, 97, 108], ic50B);
legendBlock(211, 210, 202, 320, 257, [268, 279, 290, 301], ic50C);
legendBlock(582, 580, 572, 694, 257, [268, 279, 290, 301], ic50D);
legendBlock(211, 210, 202, 322, 440, [452, 463, 474, 485], ic50E);
legendBlock(582, 576, 570, 694, 432, [443, 454, 465, 476], ic50F);

// ---------- panel g table ----------
T(bold('Treatment'), 552, 609, 10, {xanchor: 'left', font: {size: 10, color: '#222', family: FONT}});
T(bold('IC50 [95%CI]'), 680, 609, 10, {font: {size: 10, color: '#222', family: FONT}});
const gRows = [621, 633, 651, 664, 683, 695];
const gStyles = [ST.p1ctrl, ST.p171c, ST.p2ctrl, ST.p271c, ST.noctrl, ST.no71c];
gTreat.forEach((t, i) => {
  keyShape(541, gRows[i], gStyles[i], 7);
  T(t, 552, gRows[i], LF, {xanchor: 'left', font: {size: LF, color: '#333', family: FONT}});
  T(gIc50[i], 680, gRows[i], LF, {font: {size: LF, color: '#333', family: FONT}});
});
[[627, 616, 639, 'dot', 1], [657.5, 645, 670, 'solid', 2], [689, 677, 702, 'solid', 2]].forEach((g, i) => {
  T(gGroups[i], 527, g[0], 10, {xanchor: 'right'});
  shp.push({type: 'line', xref: 'paper', yref: 'paper', x0: P(530), x1: P(530), y0: Q(g[1]), y1: Q(g[2]),
    line: {color: '#222', width: g[4], dash: g[3]}});
});

// ---------- histogram legend & SAIL arrow ----------
T('isotype', 163, 637, 9.5, {textangle: -90, font: {size: 9.5, color: '#333', family: FONT}});
T('7-1c', 174, 644, 9.5, {textangle: -90, font: {size: 9.5, color: '#333', family: FONT}});
const hRows = [661, 670.5, 680];
hRows.forEach((y, i) => {
  shp.push({type: 'rect', xref: 'paper', yref: 'paper', x0: P(160), x1: P(166.5), y0: Q(y + 3.2), y1: Q(y - 3.2),
    fillcolor: '#dcdcdc', line: {color: '#b5b5b5', width: 1}});
  const st = [{f: '#fff', c: '#555', d: 'dot'}, {f: '#fff', c: '#111', d: 'solid'}, {f: '#444', c: '#222', d: 'solid'}][i];
  shp.push({type: 'rect', xref: 'paper', yref: 'paper', x0: P(171.5), x1: P(178), y0: Q(y + 3.2), y1: Q(y - 3.2),
    fillcolor: st.f, line: {color: st.c, width: 1, dash: st.d}});
  T(histLegend[i], 183, y, 8.5, {xanchor: 'left', borderpad: 0, font: {size: 8.5, color: '#333', family: FONT}});
});
shp.push({type: 'line', xref: 'paper', yref: 'paper', x0: P(52), x1: P(141), y0: Q(735), y1: Q(735),
  line: {color: '#000', width: 1}});
shp.push({type: 'path', xref: 'paper', yref: 'paper',
  path: `M ${P(139)},${Q(730.5)} L ${P(150)},${Q(735)} L ${P(139)},${Q(739.5)} Z`, fillcolor: '#000', line: {color: '#000', width: 1}});
T('SAIL', 100, 742.5, 9.5, {borderpad: 0, font: {size: 9.5, color: '#333', family: FONT}});

Plotly.newPlot('chart', traces, layout, {staticPlot: true, displayModeBar: false});
</script></body></html>
